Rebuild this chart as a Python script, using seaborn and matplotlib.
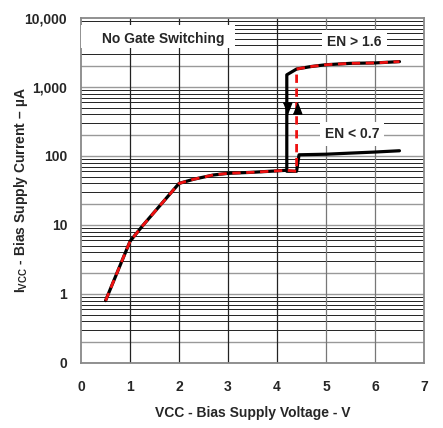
import numpy as np
import pandas as pd
import matplotlib
matplotlib.use("Agg")
import matplotlib.pyplot as plt
from matplotlib.patches import Rectangle
from matplotlib.ticker import FixedLocator, NullFormatter
import seaborn as sns

sns.set_theme(style="white")
plt.rcParams['font.family'] = ['Liberation Sans', 'DejaVu Sans']
plt.rcParams['mathtext.fontset'] = 'custom'
plt.rcParams['mathtext.rm'] = 'Liberation Sans:bold'

# falling VCC (solid black): low curve, jump up at 4.2 V, then EN > 1.6 curve
vcc_low = [0.5, 1.0, 1.27, 2.0, 2.3, 2.7, 3.0, 3.5, 4.2]
i_low = [0.8, 5.8, 10, 40, 46, 53, 56, 58, 62]
vcc_on = [4.2, 4.4, 4.7, 5.0, 5.5, 6.0, 6.5]
i_on = [1500, 1820, 1980, 2100, 2200, 2230, 2330]
# EN < 0.7 branch
vcc_off = [4.2, 4.4, 4.45, 5.0, 5.5, 6.0, 6.5]
i_off = [60, 60, 104, 106, 110, 114, 119]
# rising VCC (red dashed) jumps at 4.4 V
vcc_rise_jump = 4.4

y_ticks = [0.1, 1, 10, 100, 1000, 10000]
y_labels = ["0", "1", "10", "100", "1,000", "10,000"]
x_ticks = [0, 1, 2, 3, 4, 5, 6, 7]

black = pd.DataFrame({"v": vcc_low + vcc_on, "i": i_low + i_on})
off = pd.DataFrame({"v": vcc_off, "i": i_off})
red = pd.DataFrame({"v": vcc_low + [4.4, 4.4] + vcc_on[1:],
                    "i": i_low + [60, i_on[1]] + i_on[1:]})

fig = plt.figure(figsize=(4.43, 4.28), dpi=100)
ax = fig.add_axes([0.183, 0.152, 0.774, 0.806])
ax.set_yscale("log")
ax.set_xlim(0, 7)
ax.set_ylim(0.1, 10000)

# grid: log minor lines, mostly dark with lighter decade / 2x lines
minor = [m * 10.0 ** d for d in range(-1, 4) for m in range(3, 10)]
light = [m * 10.0 ** d for d in range(-1, 4) for m in (1, 2)]
for y in minor:
    ax.axhline(y, color="#222222", lw=0.7, zorder=0)
for y in light:
    ax.axhline(y, color="#999999", lw=1.0, zorder=0)
for x in range(1, 7):
    ax.axvline(x, color="#222222" if x < 5 else "#777777", lw=0.9, zorder=0)

sns.lineplot(data=black, x="v", y="i", sort=False, estimator=None,
             color="black", lw=2.3, ax=ax, zorder=3)
sns.lineplot(data=off, x="v", y="i", sort=False, estimator=None,
             color="black", lw=2.3, ax=ax, zorder=3)
ax.plot(red["v"], red["i"], color="#ee1111", lw=2.0, dashes=(3, 2), zorder=4)

# arrows on the hysteresis jumps
tri_down = [(-1, 1.3), (1, 1.3), (0, -1.3)]
tri_up = [(-1, -1.3), (1, -1.3), (0, 1.3)]
ax.plot([4.2], [500], marker=tri_down, color="black", ms=8, zorder=5)
ax.plot([vcc_rise_jump], [500], marker=tri_up, color="black", ms=8, zorder=5)

ax.add_patch(Rectangle((0, 0.913), 0.449, 0.067, transform=ax.transAxes,
                       fc="white", ec="none", zorder=5))
ax.text(1.68, 5000, "No Gate Switching", fontsize=10, fontweight="bold",
        ha="center", va="center", zorder=6)
box = dict(boxstyle="square,pad=0.35", fc="white", ec="none")
ax.text(5.58, 4450, "EN > 1.6", fontsize=10, fontweight="bold",
        ha="center", va="center", bbox=box, zorder=6)
ax.text(5.53, 210, "EN < 0.7", fontsize=10, fontweight="bold",
        ha="center", va="center", bbox=box, zorder=6)

ax.yaxis.set_major_locator(FixedLocator(y_ticks))
ax.yaxis.set_minor_formatter(NullFormatter())
ax.set_yticks(y_ticks)
ax.set_yticklabels(y_labels)
ax.set_xticks(x_ticks)
ax.tick_params(axis="both", length=0, labelsize=10)
ax.tick_params(axis="y", pad=10, which="both", length=0)
ax.tick_params(axis="x", pad=12)
for lab in ax.get_xticklabels() + ax.get_yticklabels():
    lab.set_fontweight("bold")

ax.set_xlabel("VCC - Bias Supply Voltage - V", fontsize=10, fontweight="bold", labelpad=9)
ax.set_ylabel(r"I$_{\mathrm{VCC}}$ - Bias Supply Current – µA", fontsize=10,
              fontweight="bold")
ax.yaxis.set_label_coords(-0.15, 0.5)

for s in ax.spines.values():
    s.set_color("#888888")
    s.set_linewidth(1.3)

fig.savefig("out.png", dpi=100)
